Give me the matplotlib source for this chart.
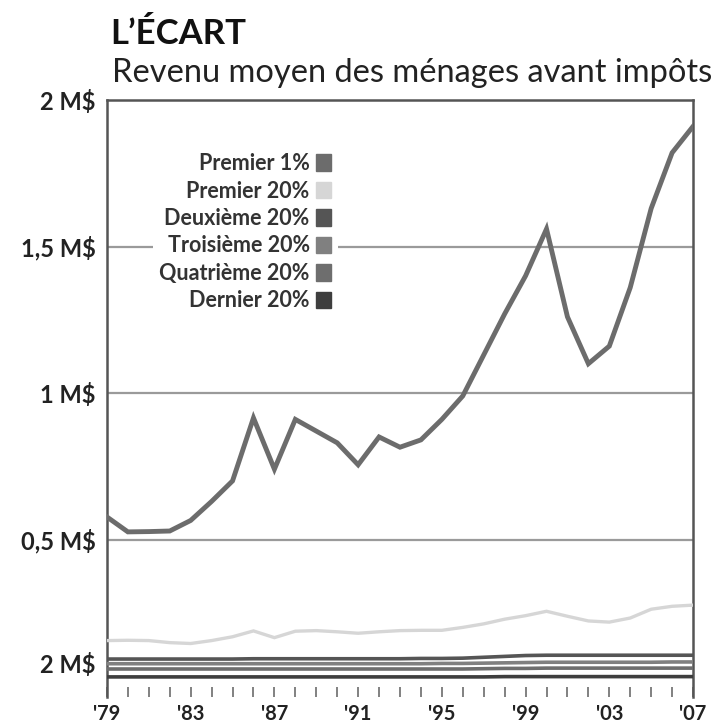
# -*- coding: utf-8 -*-
"""
L'écart : revenu moyen des ménages avant impôts (1979-2007)
"""

import matplotlib.pyplot as plt
from matplotlib.patches import Patch

# Données (en M$)
annees = list(range(1979, 2008))

premier_1 = [0.577, 0.526, 0.527, 0.529, 0.565, 0.63, 0.70, 0.915, 0.74, 0.91,
             0.87, 0.83, 0.755, 0.85, 0.815, 0.84, 0.91, 0.99, 1.13, 1.27,
             1.40, 1.56, 1.26, 1.10, 1.16, 1.36, 1.63, 1.82, 1.91]

premier_20 = [0.155, 0.156, 0.155, 0.148, 0.145, 0.155, 0.168, 0.188, 0.165, 0.187,
              0.189, 0.185, 0.180, 0.185, 0.189, 0.190, 0.190, 0.200, 0.212, 0.228,
              0.240, 0.255, 0.238, 0.222, 0.218, 0.232, 0.262, 0.272, 0.276]

deuxieme_20 = [0.092, 0.092, 0.092, 0.092, 0.092, 0.092, 0.092, 0.093, 0.093, 0.093,
               0.093, 0.093, 0.093, 0.093, 0.093, 0.094, 0.094, 0.095, 0.098, 0.101,
               0.104, 0.105, 0.105, 0.105, 0.105, 0.105, 0.105, 0.105, 0.105]

troisieme_20 = [0.076, 0.076, 0.076, 0.076, 0.076, 0.076, 0.076, 0.076, 0.076, 0.076,
                0.076, 0.076, 0.076, 0.076, 0.076, 0.076, 0.077, 0.077, 0.078, 0.079,
                0.080, 0.081, 0.081, 0.081, 0.081, 0.081, 0.081, 0.082, 0.082]

quatrieme_20 = [0.058, 0.058, 0.058, 0.058, 0.058, 0.058, 0.058, 0.058, 0.058, 0.058,
                0.058, 0.058, 0.058, 0.058, 0.058, 0.058, 0.058, 0.058, 0.059, 0.060,
                0.060, 0.061, 0.061, 0.061, 0.061, 0.061, 0.061, 0.061, 0.061]

dernier_20 = [0.031, 0.031, 0.031, 0.031, 0.031, 0.031, 0.031, 0.031, 0.031, 0.031,
              0.031, 0.031, 0.031, 0.031, 0.031, 0.031, 0.031, 0.031, 0.031, 0.032,
              0.032, 0.032, 0.032, 0.032, 0.032, 0.032, 0.032, 0.032, 0.032]

noms = ['Premier 1%', 'Premier 20%', 'Deuxième 20%', 'Troisième 20%',
        'Quatrième 20%', 'Dernier 20%']
couleurs = ['#6c6c6c', '#d6d6d6', '#555555', '#808080', '#6e6e6e', '#3e3e3e']

# Axes
y_ticks = [0.08, 0.5, 1.0, 1.5, 2.0]
y_labels = ['2 M$', '0,5 M$', '1 M$', '1,5 M$', '2 M$']
grille = [0.5, 1.0, 1.5]
x_ticks = [1979, 1983, 1987, 1991, 1995, 1999, 2003, 2007]
x_labels = ["'79", "'83", "'87", "'91", "'95", "'99", "'03", "'07"]

plt.rcParams['font.family'] = ['Lato', 'DejaVu Sans']

fig = plt.figure(figsize=(7.13, 7.27), dpi=100)
ax = fig.add_axes([0.150, 0.0413, 0.822, 0.8211])

for g in grille:
    ax.axhline(g, color='#9a9a9a', lw=1.6, zorder=1)

series = [premier_1, premier_20, deuxieme_20, troisieme_20, quatrieme_20, dernier_20]
largeurs = [3.5, 2.4, 2.6, 2.6, 2.6, 2.6]
for s, c, w in zip(series, couleurs, largeurs):
    ax.plot(annees, s, color=c, lw=w, solid_joinstyle='miter', zorder=3)

ax.set_xlim(1979, 2007)
ax.set_ylim(-0.0375, 2.0)

ax.set_yticks(y_ticks)
ax.set_yticklabels(y_labels, fontsize=17, fontweight='bold', color='#222222')
ax.tick_params(axis='y', length=0, pad=8)

ax.set_xticks(annees, minor=True)
ax.set_xticks(x_ticks)
ax.set_xticklabels(x_labels, fontsize=14.5, fontweight='bold', color='#222222')
ax.tick_params(axis='x', which='both', direction='in', length=7, width=1.3,
               color='#777777', pad=5)

for side in ['left', 'right', 'top']:
    ax.spines[side].set_color('#555555')
    ax.spines[side].set_linewidth(1.8)
ax.spines['bottom'].set_visible(False)

# Légende (carrés à droite du texte)
poignees = [Patch(facecolor=c, edgecolor=c) for c in couleurs]
leg = ax.legend(poignees, noms, loc='upper left', bbox_to_anchor=(0.06, 0.94),
                markerfirst=False, frameon=True, fancybox=False, framealpha=1,
                edgecolor='none', facecolor='white', handlelength=0.7,
                handleheight=0.8, handletextpad=0.3, labelspacing=0.3,
                borderpad=0.3, prop={'size': 15.5, 'weight': 'bold'})
for t in leg.get_texts():
    t.set_color('#333333')
leg._legend_box.align = 'right'
leg.set_zorder(5)

# Titres
fig.text(0.155, 0.94, 'L’ÉCART', fontsize=25, fontweight='bold', color='#111111')
fig.text(0.157, 0.887, 'Revenu moyen des ménages avant impôts', fontsize=23.5,
         color='#222222')

fig.savefig('out.png', dpi=100, facecolor='white')
